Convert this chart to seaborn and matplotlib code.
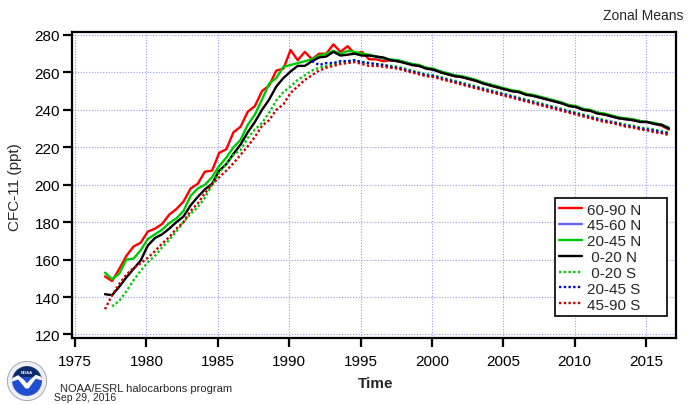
import numpy as np
import pandas as pd
import matplotlib
matplotlib.use("Agg")
import matplotlib.pyplot as plt
import seaborn as sns
from matplotlib.lines import Line2D
from matplotlib.patches import Circle, Wedge, Polygon

# half-yearly readings, first point 1977.1
years = np.round(1977.1 + 0.5 * np.arange(80), 2)

zones = ["60-90 N", "45-60 N", "20-45 N", "0-20 N", "0-20 S", "20-45 S", "45-90 S"]
colors = ["#ff0000", "#6464ff", "#00c800", "#000000", "#00c800", "#0000e6", "#c80000"]
dotted = ["0-20 S", "20-45 S", "45-90 S"]

n60_90 = [151, 148.5, 155, 162, 167, 169, 175, 176.5, 179, 184, 187, 191, 198, 200.5,
          207, 207.5, 217, 219, 228, 231, 239, 242, 250, 253, 261, 262, 272, 266.5,
          271, 267, 270, 270, 275, 271, 274, 270, 271, 267, 267, 266] + \
         [266.5, 266, 265.5, 264, 263.5, 262.5, 261.5, 260.5, 259, 258, 257.5, 256.5,
          255.5, 254.5, 253, 252, 251, 250, 249.5, 248.5, 247.5, 246.5, 245.5, 244.5,
          243.5, 242.5, 241.5, 240, 239.5, 238.5, 237.5, 236.5, 235.5, 235, 234.5, 234,
          233.5, 232.5, 231.5, 229.5]

n45_60 = [np.nan] * 38 + [268, 267.5] + \
         [266.5, 266.5, 265.5, 264.5, 263.5, 262.5, 261.5, 260.5, 259.5, 258.5, 257.5,
          257, 255.5, 254.5, 253.5, 252.5, 251, 250, 249.5, 248.5, 247.5, 246.5, 245.5,
          244.5, 243.5, 242.5, 241.5, 240.5, 239.5, 238.5, 237.5, 236.5, 235.5, 235,
          234.5, 234, 233.5, 232.5, 232, 230]

n20_45 = [153, 149.5, 152.5, 160, 160.5, 165, 171, 173.5, 176, 179.5, 182, 186, 194, 198,
          200, 204, 210, 214.5, 220, 224, 232, 237.5, 245.5, 254, 257, 263, 264, 265,
          266, 267, 269, 270, 271.5, 270, 271.5, 271, 270, 269.5, 268.5, 267.5] + \
         [267, 266.5, 265.5, 264.5, 264, 262.5, 262, 260.5, 259.5, 258.5, 258, 257, 256,
          254.5, 253.5, 252.5, 251.5, 250.5, 250, 248.5, 248, 247, 246, 245, 244, 242.5,
          242, 240.5, 240, 238.5, 238, 237, 236, 235.5, 235, 234, 233.5, 233, 232, 230.5]

n0_20 = [141.5, 141, 145.5, 150.5, 155, 159.5, 167.5, 171.5, 173.5, 176.5, 180, 183,
         189, 193.5, 197.5, 200.5, 207.5, 211, 216.5, 221.5, 228, 233.5, 240, 245.5,
         252.5, 257, 260.5, 263.5, 263.5, 266, 268, 268.5, 271, 269, 269.5, 270, 269,
         269, 268.5, 268] + \
        [266.5, 266, 265, 264, 263.5, 262, 261.5, 260, 259, 258, 257.5, 256.5, 255.5,
         254, 253, 252, 251, 250, 249.5, 248, 247.5, 246.5, 245.5, 244.5, 243.5, 242,
         241.5, 240, 239.5, 238, 237.5, 236.5, 235.5, 235, 234.5, 233.5, 233.5, 232.5,
         232, 230]

s0_20 = [np.nan, 135, 138, 143, 149, 154, 158.5, 162, 166.5, 170.5, 175, 180, 184.5, 188,
         193, 200, 206.5, 211, 216, 218.5, 225, 229.5, 233, 238.5, 245, 249.5, 252.5,
         256, 258.5, 261, 262.5, 263.5, 264.5, 265.5, 266, 266.5, 265.5, 265, 264.5,
         264] + \
        [263.5, 263, 262, 261, 260, 259, 258.5, 257.5, 256.5, 255.5, 254.5, 253.5, 252.5,
         251.5, 250.5, 249.5, 248.5, 247.5, 246.5, 245.5, 244.5, 243.5, 242.5, 241.5,
         240.5, 239.5, 238.5, 237.5, 236.5, 235.5, 234.5, 233.5, 233, 232, 231.5, 230.5,
         230, 229.5, 228.5, 228]

s20_45 = [np.nan] * 29 + [266, 264, 265, 265, 266, 266, 266.5, 265.5, 265, 264.5, 264] + \
         [263, 262.5, 261.5, 260.5, 259.5, 258.5, 258, 257, 256, 255, 254, 253, 252, 251,
          250, 249, 248, 247, 246, 245, 244, 243, 242, 241, 240, 239, 238, 237, 236, 235,
          234, 233.5, 232.5, 231.5, 231, 230, 229.5, 229, 228, 227.5]

s45_90 = [133.5, 141, 147, 152, 155.5, 158, 161, 164.5, 168.5, 172, 176.5, 180, 186, 190,
          195.5, 200, 204, 207.5, 211.5, 216, 220.5, 225.5, 231.5, 234.5, 240, 243, 249,
          252.5, 256, 258.5, 261, 262.5, 263.5, 264.5, 265, 265.5, 264.5, 263.5, 263.5,
          263] + \
         [262.5, 262, 261, 260, 259, 258, 257.5, 256.5, 255.5, 254.5, 253.5, 252.5, 251.5,
          250.5, 249.5, 248.5, 247.5, 246.5, 245.5, 244.5, 243.5, 242.5, 241.5, 240.5,
          239.5, 238.5, 237.5, 236.5, 235.5, 234.5, 233.5, 233, 232, 231, 230.5, 229.5,
          229, 228, 227.5, 226.5]

series = [n60_90, n45_60, n20_45, n0_20, s0_20, s20_45, s45_90]

x_ticks = [1975, 1980, 1985, 1990, 1995, 2000, 2005, 2010, 2015]
y_ticks = [120, 140, 160, 180, 200, 220, 240, 260, 280]


def draw_logo(fig):
    lax = fig.add_axes([7 / 695, 4 / 406, 40 / 695, 40 / 406])
    lax.set_xlim(-1.02, 1.02)
    lax.set_ylim(-1.02, 1.02)
    lax.set_aspect("equal")
    lax.axis("off")
    lax.add_patch(Circle((0, 0), 1.0, fc="#eeeef4", ec="#9a9ab0", lw=0.6))
    inner = Circle((0, 0), 0.76, fc="none", ec="none")
    lax.add_patch(inner)
    top = Wedge((0, 0), 0.76, 0, 180, fc="#0c2a6e", ec="none")
    bot = Wedge((0, 0), 0.76, 180, 360, fc="#1f4fd0", ec="none")
    lax.add_patch(top)
    lax.add_patch(bot)
    bot_fill = Polygon([(-0.8, 0.0), (0.8, 0.0), (0.8, 0.2), (-0.8, 0.2)],
                       fc="#1f4fd0", ec="none")
    lax.add_patch(bot_fill)
    bot_fill.set_clip_path(inner)
    gull = Polygon([(-0.8, 0.12), (-0.45, 0.3), (-0.15, 0.05), (0, -0.12), (0.15, 0.05),
                    (0.45, 0.32), (0.8, 0.18), (0.8, 0.02), (0.45, 0.12), (0.08, -0.38),
                    (-0.08, -0.38), (-0.45, 0.08), (-0.8, -0.05)],
                   fc="white", ec="none")
    lax.add_patch(gull)
    gull.set_clip_path(inner)
    lax.text(0, 0.45, "NOAA", color="white", fontsize=3, ha="center", va="center",
             weight="bold")


def main():
    sns.set_style("white")
    plt.rcParams["font.family"] = ["Liberation Sans", "DejaVu Sans"]

    frames = [pd.DataFrame({"year": years, "ppt": vals, "zone": z})
              for z, vals in zip(zones, series)]
    df = pd.concat(frames, ignore_index=True).dropna()

    fig = plt.figure(figsize=(6.95, 4.06), dpi=100)
    ax = fig.add_axes([72 / 695, 1 - 339 / 406, 604 / 695, 306 / 406])

    palette = dict(zip(zones, colors))
    dashes = {z: ((1, 1) if z in dotted else "") for z in zones}
    sns.lineplot(data=df, x="year", y="ppt", hue="zone", style="zone",
                 hue_order=zones, style_order=zones, palette=palette, dashes=dashes,
                 linewidth=1.7, estimator=None, sort=True, legend=False, ax=ax)

    ax.set_xlim(1974.79, 2017.1)
    ax.set_ylim(118.1, 281.6)
    ax.set_xticks(x_ticks)
    ax.set_yticks(y_ticks)
    ax.set_xlabel("")
    ax.set_ylabel("")
    ax.grid(True, color="#9a9aee", linestyle=(0, (1, 1.5)), linewidth=0.8)
    ax.set_axisbelow(True)
    for sp in ax.spines.values():
        sp.set_visible(True)
        sp.set_color("black")
        sp.set_linewidth(1.6)
    ax.tick_params(direction="out", length=6.5, width=1.6, labelsize=11, colors="black",
                   bottom=True, left=True, top=False, right=False)
    ax.tick_params(axis="x", pad=5)
    ax.tick_params(axis="y", pad=2)

    handles = [Line2D([], [], color=c, lw=1.7,
                      linestyle=(0, (1, 1)) if z in dotted else "-")
               for z, c in zip(zones, colors)]
    # centre the shorter labels and leave the wide right margin of the original box
    labels = [((" " + z) if len(z) < 7 else z) + "     " for z in zones]
    leg = ax.legend(handles, labels, loc="upper right", bbox_to_anchor=(0.985, 0.4575),
                    borderaxespad=0, fontsize=11, handlelength=1.5, handletextpad=0.3,
                    labelspacing=0.12, borderpad=0.3, fancybox=False, framealpha=1,
                    edgecolor="black")
    leg.get_frame().set_linewidth(1.2)

    fig.text(15 / 695, 1 - 187 / 406, "CFC-11 (ppt)", rotation=90, ha="center",
             va="center", fontsize=11)
    fig.text(376 / 695, 1 - 384 / 406, "Time", ha="center", va="center", fontsize=11,
             weight="bold")
    fig.text(683 / 695, 1 - 16 / 406, "Zonal Means", ha="right", va="center", fontsize=10)
    fig.text(60 / 695, 1 - 389 / 406, "NOAA/ESRL halocarbons program", ha="left",
             va="center", fontsize=8)
    fig.text(54 / 695, 1 - 398.5 / 406, "Sep 29, 2016", ha="left", va="center",
             fontsize=7.5)

    draw_logo(fig)
    fig.savefig("out.png", dpi=100)


if __name__ == "__main__":
    main()
